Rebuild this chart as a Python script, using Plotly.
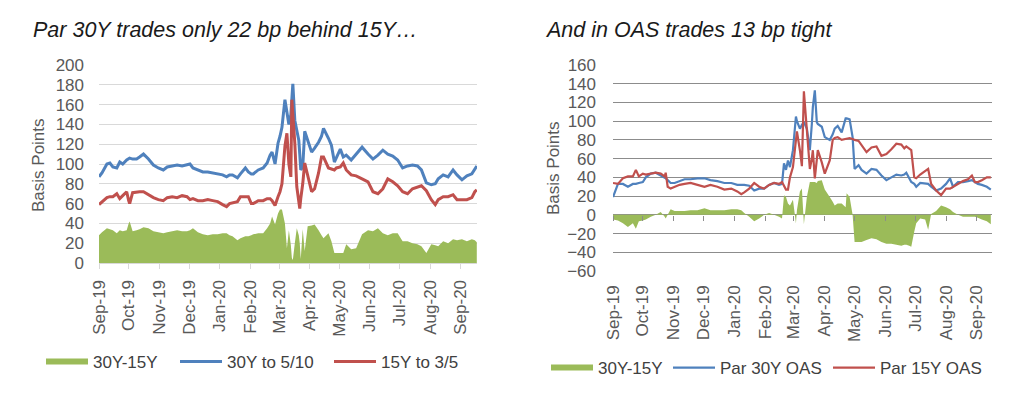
import plotly.graph_objects as go

# ---------------- Left chart data ----------------
left_dates = [
    "2019-09-01", "2019-09-04", "2019-09-09", "2019-09-12", "2019-09-15", "2019-09-19", "2019-09-22",
    "2019-09-25", "2019-09-29", "2019-10-01", "2019-10-02", "2019-10-05", "2019-10-09", "2019-10-12",
    "2019-10-16", "2019-10-21", "2019-10-26", "2019-10-31", "2019-11-05", "2019-11-09", "2019-11-14",
    "2019-11-19", "2019-11-24", "2019-11-29", "2019-12-02", "2019-12-05", "2019-12-10", "2019-12-15",
    "2019-12-20", "2019-12-25", "2019-12-30", "2020-01-04", "2020-01-08", "2020-01-11", "2020-01-14",
    "2020-01-19", "2020-01-22", "2020-01-27", "2020-01-30", "2020-02-02", "2020-02-04", "2020-02-09",
    "2020-02-14", "2020-02-18", "2020-02-21", "2020-02-23", "2020-02-26", "2020-02-29", "2020-03-02",
    "2020-03-04", "2020-03-07", "2020-03-09", "2020-03-11", "2020-03-13", "2020-03-14", "2020-03-15",
    "2020-03-17", "2020-03-19", "2020-03-21", "2020-03-22", "2020-03-23", "2020-03-25", "2020-03-27",
    "2020-03-30", "2020-04-03", "2020-04-06", "2020-04-10", "2020-04-13", "2020-04-15", "2020-04-20",
    "2020-04-23", "2020-04-26", "2020-04-28", "2020-05-02", "2020-05-05", "2020-05-08", "2020-05-13",
    "2020-05-18", "2020-05-24", "2020-05-30", "2020-06-04", "2020-06-09", "2020-06-14", "2020-06-19",
    "2020-06-24", "2020-06-29", "2020-07-04", "2020-07-09", "2020-07-14", "2020-07-19", "2020-07-23",
    "2020-07-28", "2020-08-02", "2020-08-06", "2020-08-09", "2020-08-14", "2020-08-19", "2020-08-24",
    "2020-08-28", "2020-09-02", "2020-09-07", "2020-09-12", "2020-09-15", "2020-09-17",
]
left_30y_to_5_10 = [
    87, 91, 100, 101, 97, 96, 102, 100, 104, 105, 106, 105, 105, 107, 110, 105, 99, 96, 94, 97, 98,
    99, 98, 99, 100, 96, 94, 92, 92, 91, 90, 89, 87, 89, 89, 86, 90, 96, 92, 90, 90, 94, 96, 101,
    109, 112, 100, 121, 128, 137, 165, 150, 140, 150, 171, 181, 144, 135, 124, 110, 94, 97, 133, 124,
    112, 116, 122, 128, 136, 126, 119, 102, 107, 115, 107, 109, 104, 110, 117, 110, 105, 109, 114,
    110, 108, 104, 96, 98, 99, 98, 94, 81, 79, 80, 85, 89, 87, 94, 89, 84, 88, 90, 95, 98,
]
left_15y_to_3_5 = [
    59, 62, 66, 67, 67, 70, 65, 68, 72, 63, 60, 71, 72, 72, 72, 69, 66, 64, 63, 66, 67,
    66, 68, 67, 64, 65, 63, 63, 64, 63, 62, 59, 57, 60, 61, 62, 67, 67, 67, 60, 60, 63, 63, 65,
    65, 63, 58, 67, 72, 80, 118, 131, 100, 87, 165, 150, 121, 77, 60, 55, 65, 80, 101, 89,
    72, 75, 91, 107, 107, 96, 95, 94, 96, 97, 101, 94, 89, 88, 85, 82, 72, 70, 75,
    85, 82, 78, 72, 70, 75, 77, 78, 73, 64, 59, 64, 67, 67, 69, 64, 64, 64, 66, 72, 74,
]
left_30y_15y = [
    28, 31, 35, 34, 33, 30, 33, 32, 33, 40, 42, 32, 33, 34, 36, 35, 32, 31, 30, 31, 32,
    33, 32, 32, 33, 35, 31, 29, 28, 29, 29, 30, 30, 28, 27, 23, 25, 27, 27, 28, 29, 30, 30, 35,
    40, 47, 39, 50, 54, 54, 40, 15, 33, 18, 5, 3, 20, 35, 28, 20, 4, 34, 12, 37,
    38, 39, 33, 28, 25, 30, 22, 10, 10, 10, 10, 19, 14, 15, 29, 33, 32, 35, 30,
    28, 30, 30, 22, 22, 20, 19, 17, 10, 19, 18, 17, 22, 20, 24, 23, 24, 22, 24, 23, 21,
]

# ---------------- Right chart data ----------------
right_dates = [
    "2019-09-01", "2019-09-06", "2019-09-11", "2019-09-16", "2019-09-21", "2019-09-24", "2019-09-27",
    "2019-10-01", "2019-10-04", "2019-10-09", "2019-10-14", "2019-10-19", "2019-10-23", "2019-10-24",
    "2019-10-26", "2019-10-29", "2019-11-02", "2019-11-07", "2019-11-12", "2019-11-18", "2019-11-25",
    "2019-12-02", "2019-12-08", "2019-12-15", "2019-12-22", "2019-12-29", "2020-01-04", "2020-01-08",
    "2020-01-11", "2020-01-16", "2020-01-21", "2020-01-26", "2020-01-31", "2020-02-05", "2020-02-10",
    "2020-02-15", "2020-02-18", "2020-02-20", "2020-02-22", "2020-02-24", "2020-02-26", "2020-02-29",
    "2020-03-03", "2020-03-04", "2020-03-07", "2020-03-09", "2020-03-11", "2020-03-14", "2020-03-17",
    "2020-03-19", "2020-03-20", "2020-03-22", "2020-03-24", "2020-03-25", "2020-03-29", "2020-04-01",
    "2020-04-06", "2020-04-09", "2020-04-11", "2020-04-14", "2020-04-18", "2020-04-22", "2020-04-23",
    "2020-04-26", "2020-04-29", "2020-05-01", "2020-05-05", "2020-05-08", "2020-05-13", "2020-05-18",
    "2020-05-23", "2020-05-28", "2020-06-02", "2020-06-07", "2020-06-12", "2020-06-17", "2020-06-20",
    "2020-06-22", "2020-06-25", "2020-06-27", "2020-06-30", "2020-07-02", "2020-07-06", "2020-07-11",
    "2020-07-14", "2020-07-17", "2020-07-22", "2020-07-27", "2020-08-01", "2020-08-05", "2020-08-08",
    "2020-08-13", "2020-08-18", "2020-08-23", "2020-08-27", "2020-08-30", "2020-09-02", "2020-09-06",
    "2020-09-11", "2020-09-15",
]
right_par_30y_oas = [
    19, 33, 33, 30, 33, 33, 34, 35, 40, 44, 45, 42, 40, 39, 37, 34, 34, 36, 38, 38, 39,
    39, 37, 36, 34, 34, 32, 32, 32, 31, 26, 28, 28, 32, 34, 32, 33, 55, 48, 58, 51, 69,
    105, 100, 92, 96, 99, 92, 69, 97, 115, 133, 99, 97, 94, 83, 80, 86, 92, 95, 88, 103, 103,
    102, 83, 49, 53, 48, 44, 49, 48, 42, 37, 40, 43, 42, 43, 45, 38, 35, 33, 30, 34, 33,
    33, 30, 26, 28, 33, 39, 30, 35, 35, 36, 37, 35, 33, 32, 30, 27,
]
right_par_15y_oas = [
    34, 33, 39, 41, 41, 48, 41, 44, 43, 44, 45, 44, 41, 45, 30, 28, 30, 32, 33, 34, 32,
    30, 32, 30, 27, 28, 25, 22, 24, 28, 34, 30, 28, 32, 34, 33, 35, 30, 27, 27, 40, 51,
    75, 89, 69, 52, 132, 87, 49, 60, 69, 39, 55, 69, 56, 44, 58, 80, 82, 83, 80, 81, 81,
    82, 81, 80, 79, 74, 67, 72, 73, 63, 65, 70, 76, 75, 71, 73, 71, 69, 40, 39, 43, 47,
    49, 33, 26, 21, 28, 28, 30, 33, 36, 38, 42, 35, 35, 37, 40, 40,
]
right_30y_15y = [
    -5, -6, -9, -13, -9, -15, -7, -6, -5, -2, 0, 3, -2, -4, 0, 6, 4, 4, 4, 5, 5,
    7, 5, 5, 5, 6, 6, 5, 2, -2, -7, -4, 0, 2, 0, -2, -4, 21, 19, 12, 10, 16,
    -9, 5, 25, 28, -10, 19, 35, 35, 35, 35, 34, 36, 37, 27, 19, 14, 10, 12, 12, 8, 23,
    19, 0, -29, -29, -29, -27, -25, -26, -29, -31, -31, -32, -33, -32, -32, -33, -34, -18, -9, -4, -5,
    -16, 1, 4, 10, 8, 6, 3, 0, -2, -2, -2, -2, -3, -5, -7, -10,
]

# ---------------- Styling ----------------
# The page adds an 8px body margin, so the figure is 1008x380 and every
# position below is given in window pixels and converted with fx / fy.
OFF = 8
W, H = 1024 - 2 * OFF, 396 - 2 * OFF
FONT = "Liberation Sans, Arial, sans-serif"
GREEN, BLUE, RED = "#9BBB59", "#4F81BD", "#C0504D"
TICK_GRAY = "#595959"
LEG_COLOR = "#404040"


def fx(px):
    return (px - OFF) / W


def fy(py):
    return 1 - (py - OFF) / H


fig = go.Figure()

# Left chart
fig.add_trace(go.Scatter(x=left_dates, y=left_30y_15y, name="30Y-15Y", mode="none",
                         fill="tozeroy", fillcolor=GREEN, xaxis="x", yaxis="y", legend="legend"))
fig.add_trace(go.Scatter(x=left_dates, y=left_30y_to_5_10, name="30Y to 5/10", mode="lines",
                         line=dict(color=BLUE, width=3), xaxis="x", yaxis="y", legend="legend2"))
fig.add_trace(go.Scatter(x=left_dates, y=left_15y_to_3_5, name="15Y to 3/5", mode="lines",
                         line=dict(color=RED, width=3), xaxis="x", yaxis="y", legend="legend3"))

# Right chart
fig.add_trace(go.Scatter(x=right_dates, y=right_30y_15y, name="30Y-15Y", mode="none",
                         fill="tozeroy", fillcolor=GREEN, xaxis="x2", yaxis="y2", legend="legend4"))
fig.add_trace(go.Scatter(x=right_dates, y=right_par_30y_oas, name="Par 30Y OAS", mode="lines",
                         line=dict(color=BLUE, width=2.2), xaxis="x2", yaxis="y2", legend="legend5"))
fig.add_trace(go.Scatter(x=right_dates, y=right_par_15y_oas, name="Par 15Y OAS", mode="lines",
                         line=dict(color=RED, width=2.2), xaxis="x2", yaxis="y2", legend="legend6"))
# invisible helper trace for the tick marks on the zero line of the right chart
fig.add_trace(go.Scatter(x=[right_dates[0]], y=[0], mode="none", showlegend=False,
                         hoverinfo="skip", xaxis="x3", yaxis="y2"))

tickfont = dict(family=FONT, size=17, color=TICK_GRAY)
left_range = ["2019-09-01", "2020-09-17 05:00"]
right_range = ["2019-09-01", "2020-09-16 05:00"]


def legend_at(px, py):
    return dict(orientation="h", x=fx(px), y=fy(py), xanchor="left", yanchor="middle",
                font=dict(family=FONT, size=17, color=LEG_COLOR), itemwidth=42,
                bgcolor="rgba(0,0,0,0)", borderwidth=0)


fig.update_layout(
    template="none",
    width=W, height=H,
    margin=dict(l=0, r=0, t=0, b=0, autoexpand=False),
    paper_bgcolor="white", plot_bgcolor="white",
    font=dict(family=FONT, size=17, color="#262626"),
    showlegend=True,
    xaxis=dict(domain=[fx(99), fx(477)], anchor="y", type="date", range=left_range,
               tick0="2019-09-01", dtick="M1", tickformat="%b-%y", tickangle=-90,
               ticks="outside", ticklen=5, tickcolor="#d9d9d9", tickwidth=1.3,
               showline=True, linecolor="#d9d9d9", linewidth=1.3, automargin=False,
               showgrid=False, zeroline=False, tickfont=tickfont, ticklabelstandoff=4),
    yaxis=dict(domain=[fy(263), fy(65)], anchor="x", range=[0, 200], dtick=20,
               showgrid=True, gridcolor="#d9d9d9", gridwidth=1.3, zeroline=False,
               automargin=False, ticks="",
               showline=False, tickfont=tickfont, ticklabelstandoff=14),
    xaxis2=dict(domain=[fx(613), fx(992)], anchor="y2", type="date", range=right_range,
                tick0="2019-09-01", dtick="M1", tickformat="%b-%y", tickangle=-90,
                ticks="", showline=False, showgrid=False, zeroline=False, automargin=False,
                tickfont=tickfont, ticklabelstandoff=10),
    xaxis3=dict(overlaying="x2", anchor="free", position=fy(214.8), type="date",
                range=right_range, tick0="2019-09-01", dtick="M1", automargin=False,
                ticks="outside", ticklen=5, tickcolor="#8c8c8c", tickwidth=1.3,
                showticklabels=False, showline=False, showgrid=False, zeroline=False),
    yaxis2=dict(domain=[fy(271), fy(65)], anchor="x2", range=[-60, 160], dtick=20,
                showgrid=True, gridcolor="#8c8c8c", gridwidth=1.3, zeroline=False,
                automargin=False, ticks="",
                showline=False, tickfont=tickfont, ticklabelstandoff=16),
    legend=legend_at(41, 362),
    legend2=legend_at(175, 362),
    legend3=legend_at(329, 362),
    legend4=legend_at(546, 368),
    legend5=legend_at(668, 368),
    legend6=legend_at(828, 368),
    annotations=[
        dict(text="<i>Par 30Y trades only 22 bp behind 15Y…</i>", x=fx(31), y=fy(30),
             xref="paper", yref="paper", xanchor="left", yanchor="middle", showarrow=False,
             font=dict(family=FONT, size=21.5, color="#1a1a1a")),
        dict(text="<i>And in OAS trades 13 bp tight</i>", x=fx(543), y=fy(30),
             xref="paper", yref="paper", xanchor="left", yanchor="middle", showarrow=False,
             font=dict(family=FONT, size=21.5, color="#1a1a1a")),
        dict(text="Basis Points", x=fx(38), y=fy(165), xref="paper", yref="paper",
             xanchor="center", yanchor="middle", textangle=-90, showarrow=False,
             font=dict(family=FONT, size=17, color=TICK_GRAY)),
        dict(text="Basis Points", x=fx(553), y=fy(168), xref="paper", yref="paper",
             xanchor="center", yanchor="middle", textangle=-90, showarrow=False,
             font=dict(family=FONT, size=17, color=TICK_GRAY)),
    ],
)

fig.write_html("out.html")
